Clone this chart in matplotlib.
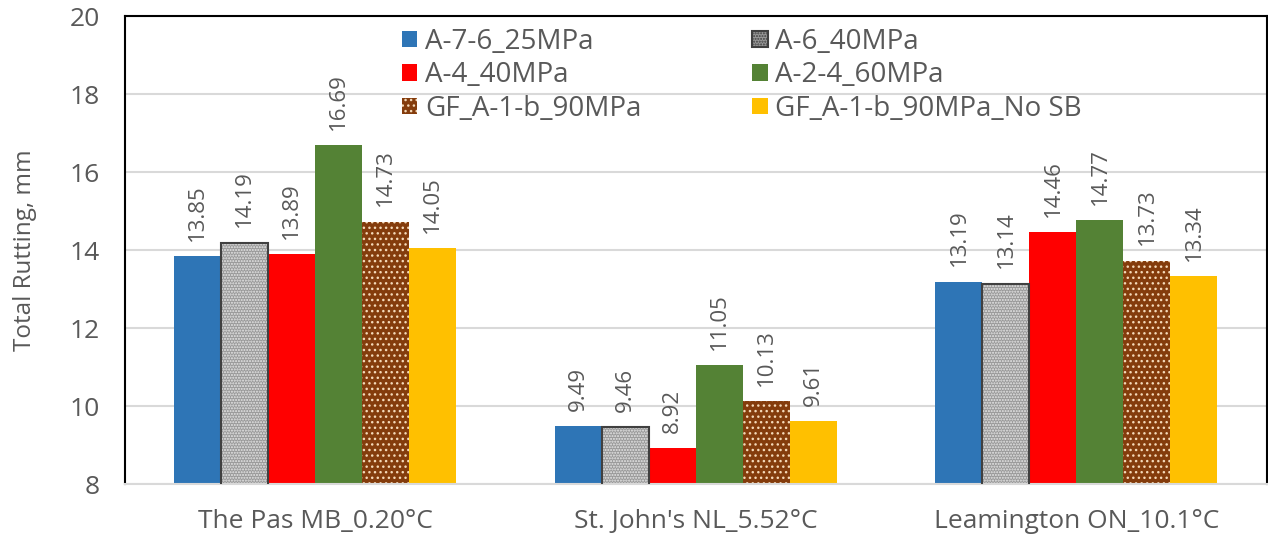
import numpy as np
import matplotlib.pyplot as plt

plt.rcParams['font.family'] = ['Open Sans', 'DejaVu Sans']

sites = ["The Pas MB_0.20°C", "St. John's NL_5.52°C", "Leamington ON_10.1°C"]
materials = ["A-7-6_25MPa", "A-6_40MPa", "A-4_40MPa", "A-2-4_60MPa",
             "GF_A-1-b_90MPa", "GF_A-1-b_90MPa_No SB"]
rutting = [
    [13.85, 9.49, 13.19],   # A-7-6_25MPa
    [14.19, 9.46, 13.14],   # A-6_40MPa
    [13.89, 8.92, 14.46],   # A-4_40MPa
    [16.69, 11.05, 14.77],  # A-2-4_60MPa
    [14.73, 10.13, 13.73],  # GF_A-1-b_90MPa
    [14.05, 9.61, 13.34],   # GF_A-1-b_90MPa_No SB
]
yticks = [8, 10, 12, 14, 16, 18, 20]

# face, hatch, hatch colour, outline
styles = [
    ('#2E75B6', None, None, None),
    ('#999999', '......', '#E8E8E8', '#404040'),
    ('#FF0000', None, None, None),
    ('#548235', None, None, None),
    ('#843C0C', '...', '#F4D9B8', None),
    ('#FFC000', None, None, None),
]

txt = '#595959'

fig = plt.figure(figsize=(12.68, 5.39), dpi=100)
ax = fig.add_axes([0.0986, 0.102, 0.9004, 0.868])

x = np.arange(len(sites))
w = 0.1235
handles = []
for i, (vals, (fc, hatch, hc, ec)) in enumerate(zip(rutting, styles)):
    pos = x + (i - 2.5) * w
    if hatch:
        ax.bar(pos, vals, w, bottom=0, color=fc, hatch=hatch,
               edgecolor=hc, linewidth=0, zorder=2)
        if ec:
            ax.bar(pos, vals, w, fill=False, edgecolor=ec,
                   linewidth=1.5, zorder=3)
    else:
        ax.bar(pos, vals, w, color=fc, linewidth=0, zorder=2)
    for p, v in zip(pos, vals):
        ax.annotate(f'{v:.2f}', (p, v), xytext=(0, 11), textcoords='offset points',
                    rotation=90, ha='center', va='bottom', fontsize=16, color=txt)
    h = plt.Rectangle((0, 0), 1, 1, facecolor=fc, hatch=hatch,
                      edgecolor=ec if ec else (hc if hc else fc),
                      linewidth=1.5 if ec else 0)
    handles.append(h)

ax.set_ylim(8, 20)
ax.set_xlim(-0.5, 2.5)
ax.set_yticks(yticks)
ax.set_xticks(x)
ax.set_xticklabels(sites)
ax.tick_params(length=0, labelsize=19, colors=txt)
ax.tick_params(axis='x', pad=18)
ax.tick_params(axis='y', pad=18)
ax.set_ylabel('Total Rutting, mm', fontsize=17.5, color=txt)
ax.yaxis.set_label_coords(-0.077, 0.5)
ax.grid(axis='y', color='#D9D9D9', linewidth=1.5, zorder=0)
ax.set_axisbelow(True)
for s in ['left', 'top', 'right']:
    ax.spines[s].set_color('black')
    ax.spines[s].set_linewidth(1.5)
ax.spines['bottom'].set_color('#D9D9D9')
ax.spines['bottom'].set_linewidth(1.5)

order = [0, 2, 4, 1, 3, 5]
leg = ax.legend([handles[k] for k in order], [materials[k] for k in order],
                ncol=2, frameon=False, fontsize=20, labelcolor=txt,
                loc='upper left', bbox_to_anchor=(0.2206, 1.0285),
                handlelength=0.55, handleheight=0.55, handletextpad=0.28,
                columnspacing=4.0, labelspacing=0.2)

fig.savefig('out.png', dpi=100)
